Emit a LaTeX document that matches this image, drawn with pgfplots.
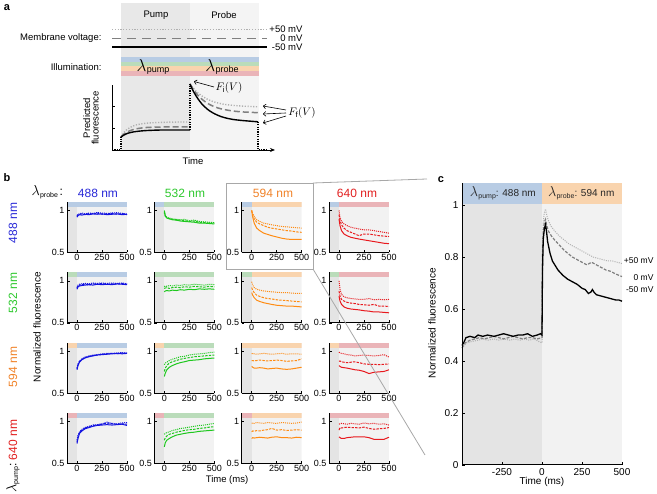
\documentclass[border=0pt]{standalone}
\usepackage{pgfplots}
\pgfplotsset{compat=1.18}
\usepackage{pgfplotstable}
\usepackage{fontspec}
\setmainfont{Liberation Sans}
\usetikzlibrary{arrows.meta}

\definecolor{abgpump}{RGB}{232,232,232}
\definecolor{abgprobe}{RGB}{244,244,244}
\definecolor{bgpump}{RGB}{228,228,228}
\definecolor{bgprobe}{RGB}{242,242,242}
\definecolor{barB}{RGB}{184,204,228}
\definecolor{barG}{RGB}{186,220,186}
\definecolor{barO}{RGB}{249,212,174}
\definecolor{barR}{RGB}{234,180,184}
\definecolor{lnB}{RGB}{20,20,225}
\definecolor{lnG}{RGB}{30,200,30}
\definecolor{lnO}{RGB}{255,140,20}
\definecolor{lnR}{RGB}{232,25,30}
\definecolor{txB}{RGB}{40,40,215}
\definecolor{txG}{RGB}{45,200,45}
\definecolor{txO}{RGB}{240,130,40}
\definecolor{txR}{RGB}{225,30,30}
\definecolor{dgray}{RGB}{128,128,128}
\definecolor{lgray}{RGB}{176,176,176}
\definecolor{boxgray}{RGB}{168,168,168}

\newcommand{\fs}[1]{\fontsize{#1}{#1}\selectfont}
\newcommand{\lam}[3]{{\fs{#1}$\lambda$}\kern0.3pt\raisebox{-0.3ex}{\fs{#2}#3}}

% ---------- panel b data: t, solid (-50 mV), dashed (0 mV), dotted (+50 mV)
\pgfplotstableread{
t s d p
0 0.92 0.93 0.94
10 0.94 0.95 0.955
25 0.95 0.955 0.96
50 0.945 0.96 0.97
80 0.955 0.95 0.96
120 0.95 0.965 0.97
160 0.96 0.955 0.965
200 0.955 0.97 0.975
250 0.96 0.955 0.97
300 0.95 0.96 0.965
350 0.955 0.965 0.97
400 0.96 0.955 0.975
450 0.95 0.965 0.965
500 0.955 0.95 0.96
}\tAA
\pgfplotstableread{
t s d p
0 1.0 0.98 0.97
10 0.94 0.93 0.935
25 0.91 0.915 0.92
50 0.90 0.905 0.91
80 0.89 0.895 0.90
120 0.885 0.89 0.895
160 0.875 0.885 0.89
200 0.87 0.88 0.895
250 0.865 0.87 0.88
300 0.86 0.875 0.885
350 0.85 0.86 0.87
400 0.85 0.855 0.865
450 0.845 0.85 0.86
500 0.84 0.85 0.855
}\tAB
\pgfplotstableread{
t s d p
0 1.0 1.0 1.0
10 0.92 0.95 0.96
25 0.85 0.90 0.93
50 0.79 0.86 0.89
80 0.76 0.84 0.87
120 0.73 0.82 0.85
160 0.715 0.80 0.84
200 0.70 0.79 0.83
250 0.685 0.78 0.82
300 0.67 0.77 0.81
350 0.66 0.76 0.805
400 0.655 0.755 0.80
450 0.655 0.745 0.795
500 0.655 0.74 0.79
}\tAC
\pgfplotstableread{
t s d p
0 0.90 0.95 1.0
10 0.82 0.88 0.92
25 0.76 0.83 0.87
50 0.72 0.79 0.84
80 0.70 0.76 0.82
120 0.68 0.74 0.80
160 0.67 0.72 0.79
200 0.66 0.70 0.78
250 0.65 0.72 0.77
300 0.64 0.72 0.77
350 0.63 0.71 0.76
400 0.62 0.70 0.75
450 0.61 0.695 0.74
500 0.605 0.69 0.73
}\tAD
\pgfplotstableread{
t s d p
0 0.90 0.91 0.92
10 0.93 0.94 0.95
25 0.94 0.95 0.96
50 0.945 0.955 0.965
80 0.95 0.96 0.97
120 0.955 0.95 0.965
160 0.95 0.965 0.975
200 0.96 0.96 0.97
250 0.955 0.97 0.975
300 0.96 0.96 0.97
350 0.955 0.965 0.975
400 0.965 0.96 0.97
450 0.96 0.97 0.975
500 0.955 0.96 0.965
}\tBA
\pgfplotstableread{
t s d p
0 0.87 0.91 0.93
10 0.88 0.915 0.94
25 0.885 0.92 0.935
50 0.88 0.91 0.945
80 0.89 0.92 0.94
120 0.885 0.925 0.95
160 0.895 0.92 0.945
200 0.89 0.93 0.955
250 0.90 0.925 0.95
300 0.895 0.935 0.96
350 0.905 0.93 0.955
400 0.90 0.925 0.95
450 0.905 0.935 0.96
500 0.90 0.93 0.955
}\tBB
\pgfplotstableread{
t s d p
0 0.86 0.92 0.99
10 0.83 0.89 0.95
25 0.80 0.86 0.92
50 0.77 0.83 0.90
80 0.755 0.815 0.89
120 0.74 0.80 0.88
160 0.73 0.79 0.875
200 0.72 0.785 0.87
250 0.71 0.775 0.865
300 0.705 0.77 0.86
350 0.70 0.765 0.86
400 0.70 0.76 0.855
450 0.695 0.755 0.85
500 0.69 0.75 0.85
}\tBC
\pgfplotstableread{
t s d p
0 0.82 0.88 1.0
10 0.76 0.82 0.90
25 0.72 0.78 0.84
50 0.69 0.76 0.81
80 0.675 0.745 0.80
120 0.665 0.735 0.79
160 0.66 0.73 0.785
200 0.655 0.72 0.78
250 0.645 0.715 0.78
300 0.64 0.71 0.79
350 0.63 0.72 0.775
400 0.63 0.70 0.78
450 0.625 0.70 0.775
500 0.62 0.695 0.78
}\tBD
\pgfplotstableread{
t s d p
0 0.78 0.79 0.80
10 0.83 0.84 0.85
25 0.87 0.88 0.885
50 0.90 0.905 0.91
80 0.92 0.925 0.93
120 0.935 0.94 0.945
160 0.945 0.95 0.955
200 0.955 0.955 0.96
250 0.96 0.965 0.97
300 0.965 0.97 0.975
350 0.97 0.975 0.975
400 0.975 0.97 0.98
450 0.97 0.98 0.985
500 0.975 0.975 0.98
}\tCA
\pgfplotstableread{
t s d p
0 0.70 0.76 0.84
10 0.74 0.80 0.86
25 0.78 0.83 0.87
50 0.81 0.86 0.89
80 0.83 0.875 0.905
120 0.85 0.89 0.92
160 0.865 0.905 0.935
200 0.875 0.915 0.94
250 0.89 0.925 0.955
300 0.895 0.935 0.965
350 0.90 0.94 0.97
400 0.91 0.945 0.975
450 0.915 0.95 0.985
500 0.92 0.955 0.99
}\tCB
\pgfplotstableread{
t s d p
0 0.82 0.89 0.97
10 0.81 0.89 0.975
25 0.80 0.885 0.97
50 0.80 0.89 0.965
80 0.805 0.895 0.97
120 0.80 0.89 0.975
160 0.79 0.885 0.97
200 0.795 0.89 0.965
250 0.80 0.895 0.97
300 0.79 0.89 0.975
350 0.785 0.88 0.965
400 0.79 0.885 0.97
450 0.80 0.89 0.97
500 0.81 0.91 0.965
}\tCC
\pgfplotstableread{
t s d p
0 0.83 0.88 0.99
10 0.82 0.885 0.98
25 0.81 0.875 0.975
50 0.805 0.87 0.97
80 0.80 0.865 0.96
120 0.79 0.87 0.955
160 0.78 0.875 0.945
200 0.775 0.865 0.95
250 0.76 0.85 0.955
300 0.735 0.845 0.95
350 0.75 0.845 0.945
400 0.755 0.84 0.95
450 0.76 0.845 0.96
500 0.78 0.85 0.93
}\tCD
\pgfplotstableread{
t s d p
0 0.74 0.76 0.78
10 0.80 0.82 0.84
25 0.86 0.87 0.88
50 0.89 0.90 0.91
80 0.915 0.925 0.93
120 0.93 0.94 0.945
160 0.945 0.955 0.96
200 0.955 0.96 0.965
250 0.96 0.97 0.975
300 0.965 0.985 0.995
350 0.96 0.975 0.98
400 0.965 0.97 0.975
450 0.97 0.975 0.985
500 0.955 0.97 0.99
}\tDA
\pgfplotstableread{
t s d p
0 0.70 0.78 0.85
10 0.75 0.81 0.86
25 0.78 0.83 0.87
50 0.80 0.85 0.88
80 0.82 0.86 0.895
120 0.84 0.875 0.905
160 0.85 0.885 0.92
200 0.86 0.895 0.925
250 0.87 0.905 0.935
300 0.875 0.91 0.945
350 0.885 0.92 0.955
400 0.89 0.925 0.96
450 0.895 0.935 0.97
500 0.90 0.94 0.98
}\tDB
\pgfplotstableread{
t s d p
0 0.80 0.88 0.98
10 0.81 0.89 0.985
25 0.805 0.885 0.98
50 0.81 0.895 0.99
80 0.815 0.89 0.985
120 0.81 0.90 0.98
160 0.805 0.905 0.99
200 0.815 0.92 0.985
250 0.82 0.90 0.98
300 0.81 0.905 0.99
350 0.81 0.895 0.985
400 0.805 0.90 0.98
450 0.815 0.905 0.985
500 0.81 0.90 0.995
}\tDC
\pgfplotstableread{
t s d p
0 0.82 0.90 0.97
10 0.81 0.93 0.975
25 0.80 0.925 0.98
50 0.80 0.93 0.975
80 0.81 0.935 0.97
120 0.815 0.93 0.98
160 0.82 0.93 0.975
200 0.82 0.925 0.97
250 0.82 0.935 0.985
300 0.81 0.92 0.975
350 0.79 0.91 0.98
400 0.79 0.915 0.97
450 0.79 0.92 0.975
500 0.815 0.93 0.96
}\tDD

% ---------- panel c data
\pgfplotstableread{
t v
-500 0.46
-490 0.47
-475 0.49
-450 0.495
-420 0.49
-400 0.50
-370 0.495
-340 0.50
-300 0.495
-270 0.50
-240 0.505
-210 0.50
-180 0.495
-150 0.50
-120 0.50
-90 0.505
-60 0.495
-30 0.50
-10 0.505
0 0.50
3 0.75
8 0.87
15 0.91
22 0.925
28 0.90
35 0.86
50 0.815
65 0.785
80 0.77
100 0.75
130 0.73
160 0.715
190 0.705
220 0.695
250 0.68
270 0.675
290 0.66
305 0.665
315 0.675
325 0.665
340 0.655
370 0.65
400 0.645
430 0.64
460 0.635
480 0.635
500 0.63
}\cS
\pgfplotstableread{
t v
-500 0.45
-480 0.47
-450 0.48
-420 0.485
-390 0.49
-360 0.485
-330 0.49
-300 0.495
-270 0.49
-240 0.485
-210 0.49
-180 0.495
-150 0.49
-120 0.485
-90 0.49
-60 0.49
-30 0.485
0 0.49
3 0.80
8 0.90
15 0.935
22 0.945
30 0.92
40 0.90
60 0.88
80 0.865
110 0.845
140 0.825
170 0.81
190 0.80
220 0.79
250 0.78
280 0.77
310 0.78
340 0.77
370 0.76
400 0.75
430 0.745
460 0.735
500 0.725
}\cD
\pgfplotstableread{
t v
-500 0.45
-470 0.47
-440 0.475
-400 0.48
-370 0.485
-340 0.48
-300 0.485
-270 0.48
-240 0.485
-200 0.48
-170 0.485
-140 0.48
-110 0.485
-80 0.48
-50 0.485
-20 0.475
0 0.47
3 0.85
8 0.94
15 0.97
22 0.985
30 0.96
40 0.94
55 0.92
80 0.90
110 0.88
140 0.865
170 0.85
200 0.84
230 0.83
260 0.82
290 0.81
320 0.80
350 0.795
380 0.79
410 0.785
440 0.785
470 0.78
500 0.775
}\cP

\pgfplotsset{
  smallax/.style={scale only axis, width=60pt, height=50.4pt, anchor=south west,
    xmin=-100, xmax=500, ymin=0.5, ymax=1.1, axis on top,
    axis x line*=bottom, axis y line*=left,
    xtick={0,250,500}, ytick={0.5,1}, tick align=inside, major tick length=2.5pt,
    tick style={black, line width=0.6pt}, axis line style={black, line width=0.9pt},
    tick label style={font=\fs{9}}, /pgf/number format/assume math mode=true,
    xticklabel style={yshift=2pt}, yticklabel style={xshift=1pt},
    every axis plot/.append style={line width=1pt, mark=none}}
}

\newcommand{\smallpanel}[6]{%
\begin{axis}[smallax, at={(#1pt,494pt-#2pt)}]
\fill[bgpump] (axis cs:-100,0.5) rectangle (axis cs:0,1.1);
\fill[bgprobe] (axis cs:0,0.5) rectangle (axis cs:500,1.1);
\fill[#3] (axis cs:-100,1.045) rectangle (axis cs:0,1.1);
\fill[#4] (axis cs:0,1.045) rectangle (axis cs:500,1.1);
\addplot[#5, solid] table[x=t,y=s] {#6};
\addplot[#5, dash pattern=on 2.4pt off 1.2pt] table[x=t,y=d] {#6};
\addplot[#5, dash pattern=on 1pt off 1pt] table[x=t,y=p] {#6};
\end{axis}}

\begin{document}
\begin{tikzpicture}
\useasboundingbox (0pt,0pt) rectangle (657pt,494pt);

% ================= panel a (decorations) =================
\begin{scope}[x=1pt,y=-1pt,shift={(0pt,494pt)}]
\fill[abgpump] (121,3) rectangle (190,150);
\fill[abgprobe] (190,3) rectangle (259,150);
\node[font=\fs{9.5}] at (156,15) {Pump};
\node[font=\fs{9.5}] at (224,15) {Probe};
\draw[lgray, line width=1pt, dash pattern=on 1.2pt off 1.6pt] (112,30) -- (267,30);
\draw[dgray, line width=1.8pt, dash pattern=on 9pt off 6pt] (112,38.5) -- (267,38.5);
\draw[black, line width=1.8pt] (112,47) -- (267,47);
\node[font=\fs{9.5}, anchor=east] at (306,29.5) {+50 mV};
\node[font=\fs{9.5}, anchor=east] at (306,38.5) {0 mV};
\node[font=\fs{9.5}, anchor=east] at (306,47.5) {-50 mV};
\node[font=\fs{9.5}, anchor=east] at (105,38.5) {Membrane voltage:};
\node[font=\fs{9.5}, anchor=east] at (105,67) {Illumination:};
\fill[barB] (121,57) rectangle (259,61.75);
\fill[barG] (121,61.75) rectangle (259,66.5);
\fill[barO] (121,66.5) rectangle (259,71.25);
\fill[barR] (121,71.25) rectangle (259,76);
\node at (153,67) {\lam{17}{9}{pump}};
\node at (222,67) {\lam{17}{9}{probe}};
\node[font=\fs{9.5}, rotate=90, align=center] at (91,118) {Predicted\\[-1pt]fluorescence};
\node[font=\fs{9.5}] at (193,161) {Time};
\node[font=\fs{11}] at (229,88) {$F_{\mathrm{i}}(V)$};
\draw[-{To[length=3pt,width=5pt]}, line width=0.6pt] (214,87) -- (194,81.5);
\node[font=\fs{11}] at (302,113) {$F_{\mathrm{f}}(V)$};
\draw[-{To[length=3pt,width=5pt]}, line width=0.6pt] (286,110) -- (263,106);
\draw[-{To[length=3pt,width=5pt]}, line width=0.6pt] (286,113) -- (263,114);
\draw[-{To[length=3pt,width=5pt]}, line width=0.6pt] (286,116) -- (263,123);
\node[font=\bfseries\fs{11}] at (7,8) {a};
\node[font=\bfseries\fs{11}] at (7,178) {b};
\node[font=\bfseries\fs{11}] at (441,180) {c};
\end{scope}

% ================= panel a axis =================
\begin{axis}[scale only axis, width=163pt, height=65pt, at={(112pt,494pt-150pt)}, anchor=south west,
  xmin=0, xmax=163, ymin=0, ymax=65, axis x line*=bottom, axis y line*=left,
  xtick=\empty, ytick={22,44}, yticklabels={}, tick align=inside, major tick length=3pt,
  tick style={black, line width=0.6pt}, clip=false,
  axis line style={black, line width=0.8pt},
  x axis line style={-{Stealth[length=5pt,width=4pt]}}]
\addplot[lgray, line width=1.4pt, dash pattern=on 1.2pt off 1.6pt, smooth] coordinates {(9,13)(12,17.5)(15,20.5)(20,23.5)(25,25.3)(32,26.5)(40,27.2)(50,27.6)(60,27.9)(78,28)};
\addplot[lgray, line width=1.4pt, dash pattern=on 1.2pt off 1.6pt, smooth] coordinates {(78,66)(82,61)(86,57)(90,54)(95,51)(100,48.8)(106,47)(112,45.7)(120,44.7)(130,43.9)(146,43.2)};
\addplot[dgray, line width=1.5pt, dash pattern=on 6pt off 3pt, smooth] coordinates {(9,13)(12,16)(15,18)(20,20)(25,21.3)(32,22.3)(40,22.8)(50,23)(60,23)(78,23)};
\addplot[dgray, line width=1.5pt, dash pattern=on 6pt off 3pt, smooth] coordinates {(78,66)(82,59.6)(86,54.6)(90,50.7)(95,47.0)(100,44.3)(106,42.0)(112,40.5)(120,39.1)(130,38.1)(146,37.3)};
\addplot[black, line width=1.4pt, smooth] coordinates {(9,13)(12,15)(15,16.5)(20,17.8)(25,18.6)(32,19.3)(40,19.7)(50,20)(60,20)(78,20)};
\addplot[black, line width=1.4pt, smooth] coordinates {(78,66)(80,61.3)(82,57.6)(84,54.2)(86,51.1)(90,45.9)(95,41.1)(100,37.6)(106,34.6)(112,32.5)(120,30.7)(130,29.5)(146,28.2)};
\addplot[black, line width=1.3pt, dash pattern=on 1.2pt off 1.2pt] coordinates {(0,0)(9,0)(9,13)};
\addplot[black, line width=1.3pt, dash pattern=on 1.2pt off 1.2pt] coordinates {(78,20)(78,66)};
\addplot[black, line width=1.3pt, dash pattern=on 1.2pt off 1.2pt] coordinates {(146,28.2)(146,0)(156,0)};
\end{axis}

% ================= panel b =================
\smallpanel{67}{252.5}{barB}{barB}{lnB}{\tAA}
\smallpanel{154.3}{252.5}{barB}{barG}{lnG}{\tAB}
\smallpanel{241.7}{252.5}{barB}{barO}{lnO}{\tAC}
\smallpanel{329}{252.5}{barB}{barR}{lnR}{\tAD}
\smallpanel{67}{322.9}{barG}{barB}{lnB}{\tBA}
\smallpanel{154.3}{322.9}{barG}{barG}{lnG}{\tBB}
\smallpanel{241.7}{322.9}{barG}{barO}{lnO}{\tBC}
\smallpanel{329}{322.9}{barG}{barR}{lnR}{\tBD}
\smallpanel{67}{393.3}{barO}{barB}{lnB}{\tCA}
\smallpanel{154.3}{393.3}{barO}{barG}{lnG}{\tCB}
\smallpanel{241.7}{393.3}{barO}{barO}{lnO}{\tCC}
\smallpanel{329}{393.3}{barO}{barR}{lnR}{\tCD}
\smallpanel{67}{463.7}{barR}{barB}{lnB}{\tDA}
\smallpanel{154.3}{463.7}{barR}{barG}{lnG}{\tDB}
\smallpanel{241.7}{463.7}{barR}{barO}{lnO}{\tDC}
\smallpanel{329}{463.7}{barR}{barR}{lnR}{\tDD}

% ================= panel c =================
\begin{axis}[scale only axis, width=160pt, height=282pt, at={(462pt,494pt-465pt)}, anchor=south west,
  xmin=-500, xmax=500, ymin=0, ymax=1.085, axis on top,
  axis x line*=bottom, axis y line*=left,
  xtick={-250,0,250,500}, ytick={0,0.2,0.4,0.6,0.8,1}, tick align=inside, major tick length=3pt,
  tick style={black, line width=0.7pt}, axis line style={black, line width=1pt},
  tick label style={font=\fs{10}}, /pgf/number format/assume math mode=true,
  xlabel={Time (ms)}, xlabel style={font=\fs{10}, yshift=5pt},
  clip=false]
\fill[bgpump] (axis cs:-500,0) rectangle (axis cs:0,1.005);
\fill[bgprobe] (axis cs:0,0) rectangle (axis cs:500,1.005);
\fill[barB] (axis cs:-500,1.005) rectangle (axis cs:0,1.085);
\fill[barO] (axis cs:0,1.005) rectangle (axis cs:500,1.085);
\node[font=\fs{10}, text=black!85] at (axis cs:-245,1.045) {\lam{15}{7}{pump}: 488 nm};
\node[font=\fs{10}, text=black!85] at (axis cs:245,1.045) {\lam{15}{7}{probe}: 594 nm};
\addplot[lgray, line width=1pt, dash pattern=on 1pt off 1.2pt] table[x=t,y=v] {\cP};
\addplot[dgray, line width=1.2pt, dash pattern=on 3pt off 1.5pt] table[x=t,y=v] {\cD};
\addplot[black, line width=1.3pt] table[x=t,y=v] {\cS};
\end{axis}

% ================= overlays and labels =================
\begin{scope}[x=1pt,y=-1pt,shift={(0pt,494pt)}]
\node[font=\fs{8.5}, anchor=east] at (657,261) {+50 mV};
\node[font=\fs{8.5}, anchor=east] at (657,278) {0 mV};
\node[font=\fs{8.5}, anchor=east] at (657,290) {-50 mV};
\node[font=\fs{10}, rotate=90] at (432,323) {Normalized fluorescence};
\node[font=\fs{10}, rotate=90] at (37,327) {Normalized fluorescence};
\node[font=\fs{9.5}] at (227,480) {Time (ms)};
\node[anchor=west] at (28,192) {\lam{15}{7}{probe}\,{\fs{12}:}};
\node[font=\fs{12}, text=txB] at (98,193) {488 nm};
\node[font=\fs{12}, text=txG] at (185,193) {532 nm};
\node[font=\fs{12}, text=txO] at (273,193) {594 nm};
\node[font=\fs{12}, text=txR] at (357,193) {640 nm};
\node[font=\fs{12}, text=txB, rotate=90] at (13,223) {488 nm};
\node[font=\fs{12}, text=txG, rotate=90] at (13,293) {532 nm};
\node[font=\fs{12}, text=txO, rotate=90] at (13,367) {594 nm};
\node[font=\fs{12}, text=txR, rotate=90] at (13,440) {640 nm};
\node[rotate=90] at (13,478) {\lam{15}{7}{pump}{\fs{12}:}};
\draw[boxgray, line width=0.8pt] (226,183) rectangle (313,269);
\draw[boxgray, line width=0.8pt] (313,183) -- (427,179);
\draw[boxgray, line width=0.8pt] (313,269) -- (425,455);
\end{scope}
\end{tikzpicture}
\end{document}
